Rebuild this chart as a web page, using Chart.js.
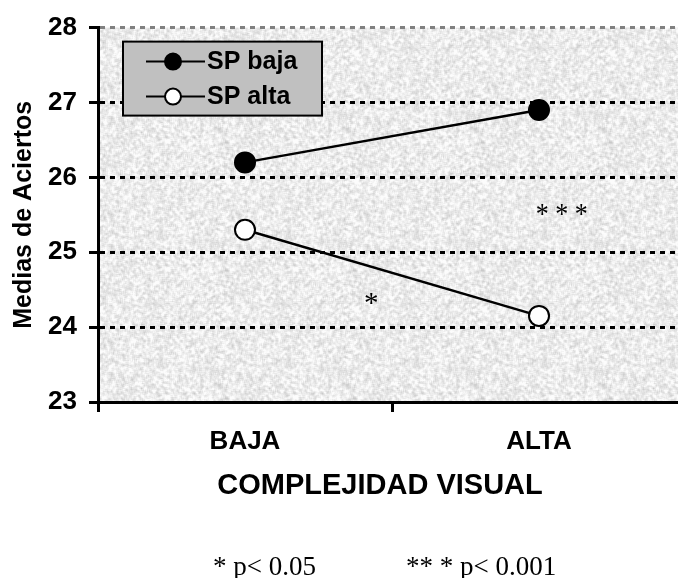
<!DOCTYPE html>
<html>
<head>
<meta charset="utf-8">
<script src="https://cdn.jsdelivr.net/npm/chart.js@4/dist/chart.umd.min.js"></script>
<style>
  html, body { margin: 0; padding: 0; background: #fff; overflow: hidden; }
  #wrap { position: relative; width: 678px; height: 578px; overflow: hidden; }
  #chart { position: absolute; left: 0; top: 0; }
</style>
</head>
<body>
<div id="wrap"><canvas id="chart" width="700" height="578"></canvas></div>
<script>
const categories = ['BAJA', 'ALTA']
const spBaja = [26.2, 26.9]
const spAlta = [25.3, 24.15]
const seriesNames = ['SP baja', 'SP alta']

// significance marks, in category-index / value units
const noteText = ['* * *', '*']
const noteX = [1.077, 0.429]
const noteY = [25.49, 24.30]

const footnotes = ['* p< 0.05', '** * p< 0.001']

const SANS = '"Liberation Sans", Arial, sans-serif'
const SERIF = '"Liberation Serif", "Times New Roman", serif'

// grey speckled fill for the plot area
const granite = (size) => {
  const c = document.createElement('canvas')
  c.width = c.height = size
  const g = c.getContext('2d')
  let s = 987654321
  const rnd = () => { s = (s * 1103515245 + 12345) & 0x7fffffff; return s / 0x7fffffff }
  const raw = new Float32Array(size * size)
  for (let i = 0; i < raw.length; i++) raw[i] = rnd()
  const img = g.createImageData(size, size)
  for (let y = 0; y < size; y++) {
    for (let x = 0; x < size; x++) {
      let sum = 0
      for (let dy = -1; dy <= 1; dy++) {
        for (let dx = -1; dx <= 1; dx++) {
          sum += raw[((y + dy + size) % size) * size + ((x + dx + size) % size)]
        }
      }
      const v = Math.max(195, Math.min(252, 236 + (sum / 9 - 0.5) * 105))
      const i = (y * size + x) * 4
      img.data[i] = v; img.data[i + 1] = v; img.data[i + 2] = v; img.data[i + 3] = 255
    }
  }
  g.putImageData(img, 0, 0)
  return c
}

const plotBackground = {
  id: 'plotBackground',
  beforeDraw(chart) {
    const {ctx, chartArea: a} = chart
    ctx.save()
    ctx.fillStyle = ctx.createPattern(granite(128), 'repeat')
    ctx.fillRect(a.left, a.top, a.right - a.left, a.bottom - a.top)
    ctx.restore()
  }
}

const extras = {
  id: 'extras',
  afterDraw(chart) {
    const {ctx, chartArea: a, scales: {x, y}} = chart
    ctx.save()

    // legend box
    const lx = a.left + 25, ly = a.top + 14
    ctx.fillStyle = '#c0c0c0'
    ctx.fillRect(lx, ly, 199, 74)
    ctx.lineWidth = 2
    ctx.strokeStyle = '#000'
    ctx.strokeRect(lx, ly, 199, 74)
    chart.data.datasets.forEach((ds, i) => {
      const cy = ly + 20 + i * 35
      ctx.beginPath()
      ctx.moveTo(lx + 23, cy)
      ctx.lineTo(lx + 82, cy)
      ctx.lineWidth = 2
      ctx.strokeStyle = ds.borderColor
      ctx.stroke()
      ctx.beginPath()
      ctx.arc(lx + 50, cy, 8, 0, Math.PI * 2)
      ctx.fillStyle = ds.pointBackgroundColor
      ctx.fill()
      ctx.stroke()
      ctx.fillStyle = '#000'
      ctx.font = 'bold 25px ' + SANS
      ctx.textAlign = 'left'
      ctx.textBaseline = 'middle'
      ctx.fillText(ds.label, lx + 84, cy + 1)
    })

    // significance marks
    ctx.font = '29px ' + SERIF
    ctx.textAlign = 'center'
    ctx.textBaseline = 'middle'
    noteText.forEach((t, i) => {
      ctx.fillText(t, x.getPixelForValue(noteX[i]), y.getPixelForValue(noteY[i]), 52)
    })

    // x axis title
    ctx.font = 'bold 29px ' + SANS
    ctx.fillText('COMPLEJIDAD VISUAL', 380, 486)

    // footnote
    ctx.font = '27px ' + SERIF
    ctx.textAlign = 'left'
    ctx.textBaseline = 'alphabetic'
    ctx.fillText(footnotes[0], 213, 575)
    ctx.fillText(footnotes[1], 406, 575)
    ctx.restore()
  }
}

new Chart(document.getElementById('chart'), {
  type: 'line',
  data: {
    labels: categories,
    datasets: [
      {
        label: seriesNames[0],
        data: spBaja,
        borderColor: '#000',
        borderWidth: 2.5,
        pointRadius: 10,
        pointBorderWidth: 2,
        pointBorderColor: '#000',
        pointBackgroundColor: '#000'
      },
      {
        label: seriesNames[1],
        data: spAlta,
        borderColor: '#000',
        borderWidth: 2.5,
        pointRadius: 10,
        pointBorderWidth: 2,
        pointBorderColor: '#000',
        pointBackgroundColor: '#fff'
      }
    ]
  },
  options: {
    responsive: false,
    animation: false,
    devicePixelRatio: 1,
    layout: { padding: { top: 23, right: 14, left: 0, bottom: 0 } },
    plugins: {
      legend: { display: false },
      tooltip: { enabled: false }
    },
    scales: {
      x: {
        offset: true,
        afterFit: (scale) => { scale.height = 176 },
        grid: {
          offset: true,
          drawOnChartArea: false,
          tickLength: 10,
          lineWidth: 3,
          color: '#000'
        },
        border: { color: '#000', width: 3 },
        ticks: {
          color: '#000',
          padding: 14,
          font: { family: SANS, size: 26, weight: 'bold' }
        }
      },
      y: {
        min: 23,
        max: 28,
        afterFit: (scale) => { scale.width = 98 },
        ticks: {
          stepSize: 1,
          color: '#000',
          padding: 12,
          font: { family: SANS, size: 26, weight: 'bold' }
        },
        grid: {
          tickLength: 9,
          lineWidth: 3,
          tickWidth: 3,
          tickColor: '#000',
          color: (c) => c.tick.value === 28 ? '#808080' : c.tick.value === 23 ? 'rgba(0,0,0,0)' : '#000'
        },
        border: { color: '#000', width: 3, dash: [5, 5] },
        title: {
          display: true,
          text: 'Medias de Aciertos',
          color: '#000',
          padding: { top: 9, bottom: 0 },
          font: { family: SANS, size: 25, weight: 'bold' }
        }
      }
    }
  },
  plugins: [plotBackground, extras]
})
</script>
</body>
</html>
